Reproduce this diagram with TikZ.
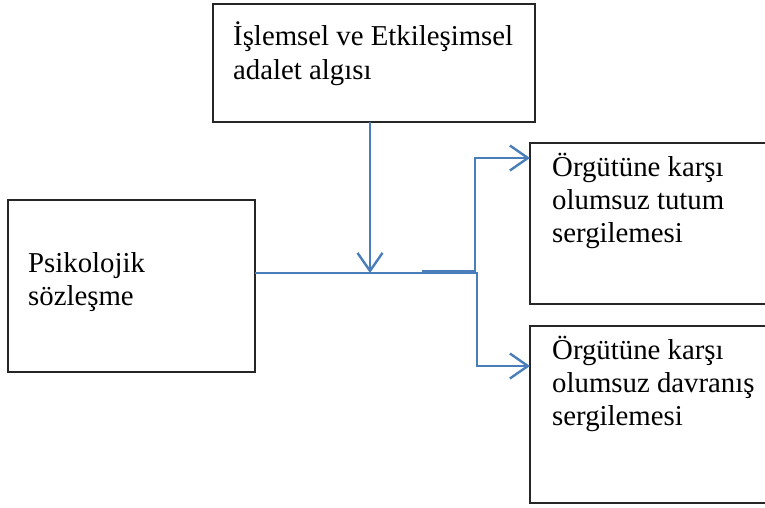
\documentclass[tikz,border=0pt]{standalone}
\usepackage{fontspec}
\setmainfont{Liberation Serif}
\usetikzlibrary{arrows.meta}
\definecolor{linkblue}{RGB}{74,126,187}
\begin{document}
\begin{tikzpicture}[x=1pt,y=-1pt,
  box/.style={draw=black!85, line width=1.3pt, inner sep=0pt, outer sep=0pt, anchor=north west},
  txt/.style={anchor=base west, inner sep=0pt, font=\fontsize{28.8}{32.5}\selectfont},
  link/.style={draw=linkblue, line width=2.4pt},
  tip/.style={-{Straight Barb[length=18pt,width=25pt]}}]
\useasboundingbox (0,0) rectangle (765,507);

% boxes
\node[box, minimum width=322pt, minimum height=118pt] (top) at (213,4) {};
\node[box, minimum width=247pt, minimum height=172pt] (left) at (8,200) {};
\node[box, minimum width=238pt, minimum height=161pt] (rt) at (530,143) {};
\node[box, minimum width=238pt, minimum height=177pt] (rb) at (530,326) {};

% texts
\node[txt] (top1) at (233,45) {İşlemsel ve Etkileşimsel};
\node[txt] (top2) at (233,79) {adalet algısı};
\node[txt] (left1) at (28,272) {Psikolojik};
\node[txt] (left2) at (28,305) {sözleşme};
\node[txt] (rt1) at (552,176) {Örgütüne karşı};
\node[txt] (rt2) at (552,209) {olumsuz tutum};
\node[txt] (rt3) at (552,242) {sergilemesi};
\node[txt] (rb1) at (552,359) {Örgütüne karşı};
\node[txt] (rb2) at (552,392) {olumsuz davranış};
\node[txt] (rb3) at (552,425) {sergilemesi};

% connectors
\coordinate (j) at (370,273);
\coordinate (s) at (477,273);
\draw[link] (left.east |- j) -- (s);
\draw[link,tip] (top.south -| j) -- (j);

\coordinate (bu) at (422,271.5);
\coordinate (u) at (475,158);
\draw[link,tip] (bu) -| (u) -- (rt.west |- u);

\coordinate (bd) at (422,273);
\coordinate (d) at (477,366);
\draw[link,tip] (bd) -| (d) -- (rb.west |- d);
\end{tikzpicture}
\end{document}
